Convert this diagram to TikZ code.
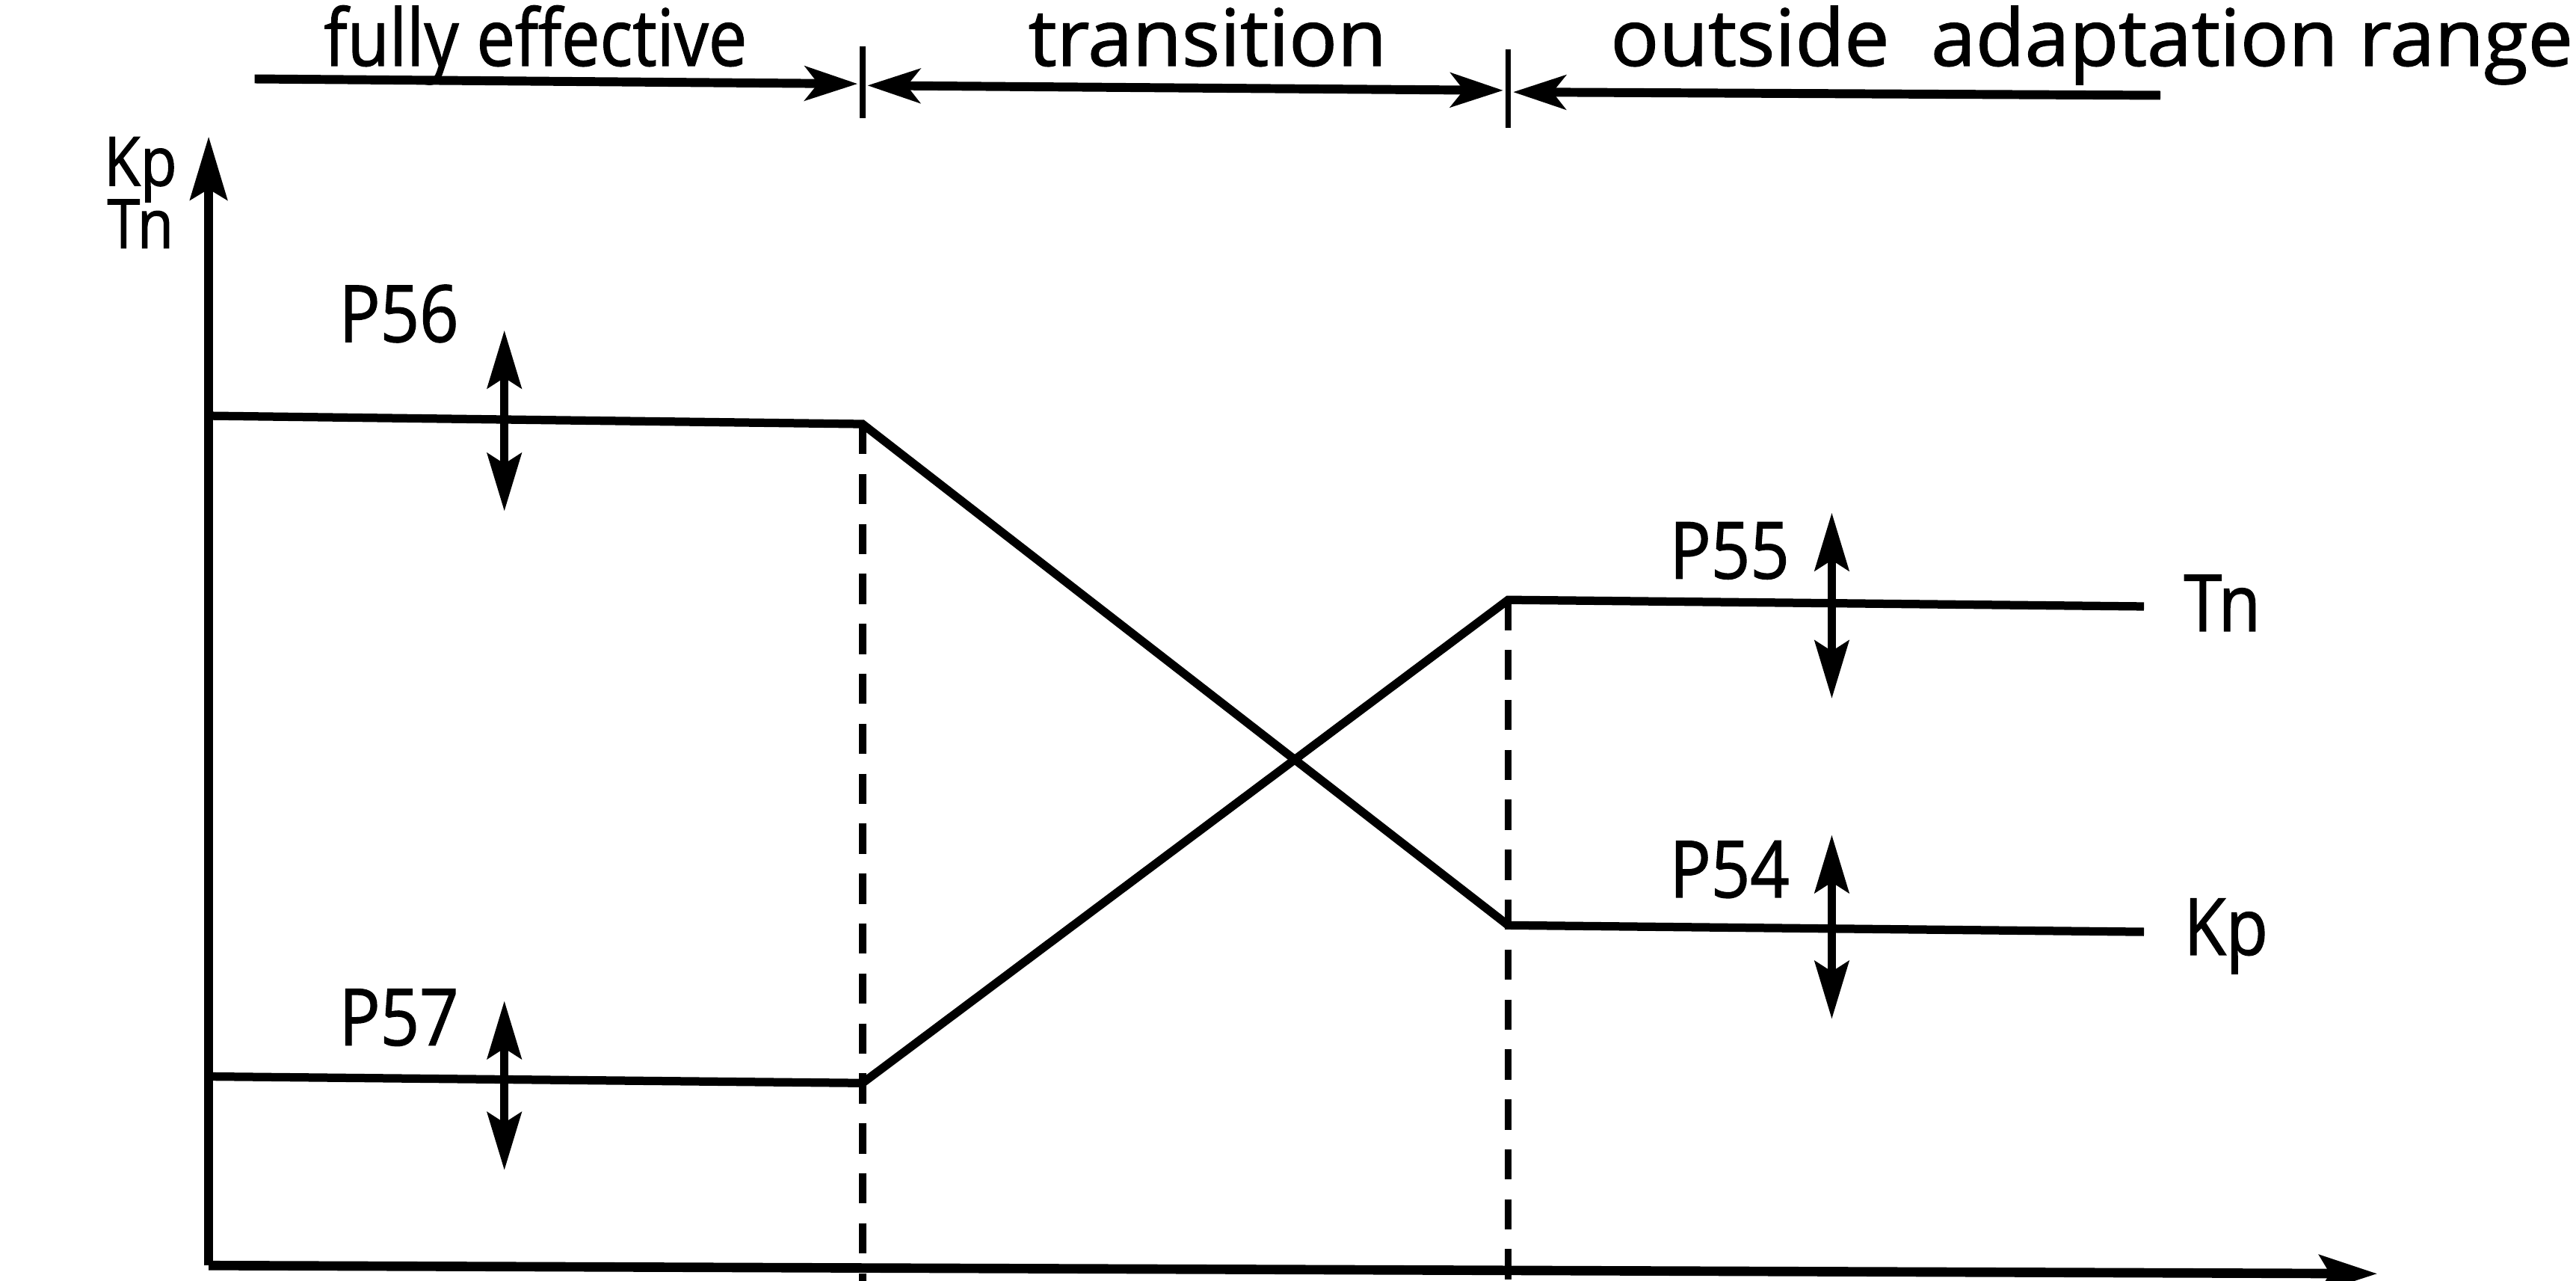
\documentclass[tikz,border=0pt]{standalone}
\usepackage{fontspec}
\setmainfont{Open Sans}[FakeStretch=0.87,FakeBold=1.2]
\usetikzlibrary{arrows.meta}
\begin{document}
\begin{tikzpicture}[x=0.02198cm,y=-0.02198cm,
  lbl/.style={font=\fontsize{30}{34}\selectfont, inner sep=0pt},
  axlbl/.style={font=\fontsize{26}{30}\selectfont, inner sep=0pt},
  axisline/.style={line width=3.6pt},
  curve/.style={line width=3.2pt, line join=miter},
  dashline/.style={line width=2.7pt, dash pattern=on 11.5pt off 7.5pt},
  adj/.style={line width=3pt, {Stealth[length=22pt,width=13pt,inset=4pt]}-{Stealth[length=22pt,width=13pt,inset=4pt]}},
  hdr/.style={line width=3.4pt},
  hdrR/.style={-{Stealth[length=20pt,width=13pt,inset=5pt]}},
  hdrL/.style={{Stealth[length=20pt,width=13pt,inset=5pt]}-},
  hdrLR/.style={{Stealth[length=20pt,width=13pt,inset=5pt]}-{Stealth[length=20pt,width=13pt,inset=5pt]}},
  tick/.style={line width=2.2pt}
]
\useasboundingbox (0,0) rectangle (1568,779);

% header
\node[lbl, anchor=base] (hfull) at (326,40) {fully effective};
\node[lbl, anchor=base] (htrans) at (735,40) {\scalebox{1.17}[1]{transition}};
\node[lbl, anchor=base west] (hout) at (980,40) {\scalebox{1.17}[1]{outside\ \ adaptation range}};
\coordinate (h1a) at (155,48);
\coordinate (h1b) at (522,51);
\coordinate (t1a) at (525,28);
\coordinate (t1b) at (525,72);
\coordinate (h2a) at (528,52);
\coordinate (h2b) at (915,55);
\coordinate (t2a) at (918,30);
\coordinate (t2b) at (918,78);
\coordinate (h3a) at (921,56);
\coordinate (h3b) at (1315,58);
\draw[hdr, hdrR] (h1a) -- (h1b);
\draw[tick] (t1a) -- (t1b);
\draw[hdr, hdrLR] (h2a) -- (h2b);
\draw[tick] (t2a) -- (t2b);
\draw[hdr, hdrL] (h3a) -- (h3b);

% axes
\coordinate (O) at (127,770);
\coordinate (ytip) at (127,83);
\coordinate (xtip) at (1447,775);
\draw[axisline, -{Stealth[length=24pt,width=14pt,inset=4pt]}] (O) -- (ytip);
\draw[axisline, -{Stealth[length=22pt,width=14pt,inset=4pt]}] (O) -- (xtip);
\node[axlbl, anchor=base east] (ykp) at (108,113) {Kp};
\node[axlbl, anchor=base east] (ytn) at (106,151) {Tn};

% curves
\coordinate (A1) at (127,253);
\coordinate (A2) at (525,258);
\coordinate (A3) at (918,563);
\coordinate (A4) at (1305,567);
\coordinate (B1) at (127,655);
\coordinate (B2) at (525,659);
\coordinate (B3) at (918,365);
\coordinate (B4) at (1305,369);
\draw[curve] (A1) -- (A2) -- (A3) -- (A4);
\draw[curve] (B1) -- (B2) -- (B3) -- (B4);

% dashed verticals
\coordinate (D1) at (525,780);
\coordinate (D2) at (918,780);
\draw[dashline] (A2) -- (D1);
\draw[dashline] (B3) -- (D2);

% end labels
\node[lbl, anchor=base west] (rtn) at (1329,384) {Tn};
\node[lbl, anchor=base west] (rkp) at (1329,581) {Kp};

% parameter labels and adjust arrows
\node[lbl, anchor=base west] (p56) at (206,208) {P56};
\coordinate (a56t) at (307,201);
\coordinate (a56b) at (307,311);
\draw[adj] (a56b) -- (a56t);

\node[lbl, anchor=base west] (p57) at (206,636) {P57};
\coordinate (a57t) at (307,609);
\coordinate (a57b) at (307,712);
\draw[adj] (a57b) -- (a57t);

\node[lbl, anchor=base west] (p55) at (1016,352) {P55};
\coordinate (a55t) at (1115,312);
\coordinate (a55b) at (1115,425);
\draw[adj] (a55b) -- (a55t);

\node[lbl, anchor=base west] (p54) at (1016,546) {P54};
\coordinate (a54t) at (1115,508);
\coordinate (a54b) at (1115,620);
\draw[adj] (a54b) -- (a54t);
\end{tikzpicture}
\end{document}
